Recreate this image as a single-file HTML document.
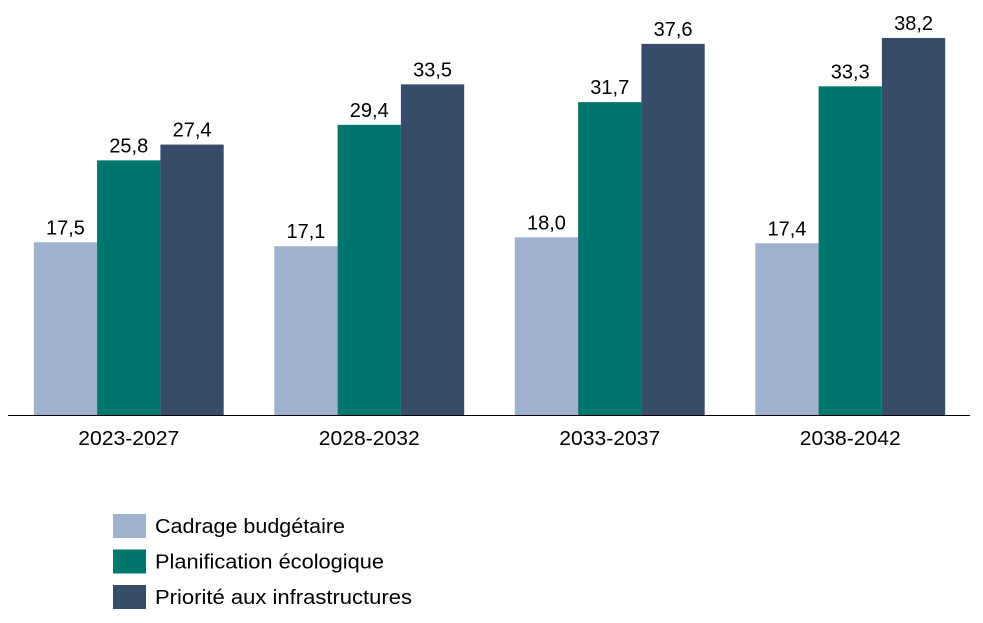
<!DOCTYPE html>
<html><head><meta charset="utf-8"><style>
body{margin:0;background:#fff;}
svg{display:block;font-family:"Liberation Sans",sans-serif;}
</style></head><body>
<svg id="chart" width="983" height="623"></svg>
<script>
const categories=["2023-2027","2028-2032","2033-2037","2038-2042"];
const seriesNames=["Cadrage budgétaire","Planification écologique","Priorité aux infrastructures"];
const cadrage=[17.5,17.1,18.0,17.4];
const planification=[25.8,29.4,31.7,33.3];
const priorite=[27.4,33.5,37.6,38.2];
const series=[cadrage,planification,priorite];
const colors=["#9FB1CF","#00766C","#374B6B"];
const legendWidths=[190,229,257];
const NS="http://www.w3.org/2000/svg";
const svg=document.getElementById("chart");
const baseY=415, pxPerUnit=9.87, x0=8.5, catW=240.5, barW=63.3;
function y(v){return baseY-v*pxPerUnit;}
function xBar(ci,si){return x0+ci*catW+(catW-3*barW)/2+si*barW;}
function mk(tag,attrs){const e=document.createElementNS(NS,tag);for(const k in attrs)e.setAttribute(k,attrs[k]);svg.appendChild(e);return e;}
series.forEach((s,si)=>{s.forEach((v,ci)=>{
 const r=mk("rect",{x:xBar(ci,si),y:y(v),width:barW,height:v*pxPerUnit,fill:colors[si]});
 
 
 const t=mk("text",{x:xBar(ci,si)+barW/2,y:y(v)-8,"text-anchor":"middle","font-size":"20",fill:"#000"});
 t.textContent=v.toFixed(1).replace(".",",");
 
 
});});
const ax=mk("line",{x1:8,x2:970,y1:baseY+0.5,y2:baseY+0.5,stroke:"#000","stroke-width":1});


categories.forEach((c,ci)=>{
 const t=mk("text",{x:x0+ci*catW+catW/2,y:445,"text-anchor":"middle","font-size":"20",fill:"#000",textLength:101,lengthAdjust:"spacingAndGlyphs"});
 t.textContent=c;
 
 
});
seriesNames.forEach((n,si)=>{
 const r=mk("rect",{x:113,y:514+si*35.5,width:33,height:24,fill:colors[si]});
 
 
 const t=mk("text",{x:155,y:533+si*35.5,"font-size":"20",fill:"#000",textLength:legendWidths[si],lengthAdjust:"spacingAndGlyphs"});
 t.textContent=n;
 
 
});
</script>
</body></html>
